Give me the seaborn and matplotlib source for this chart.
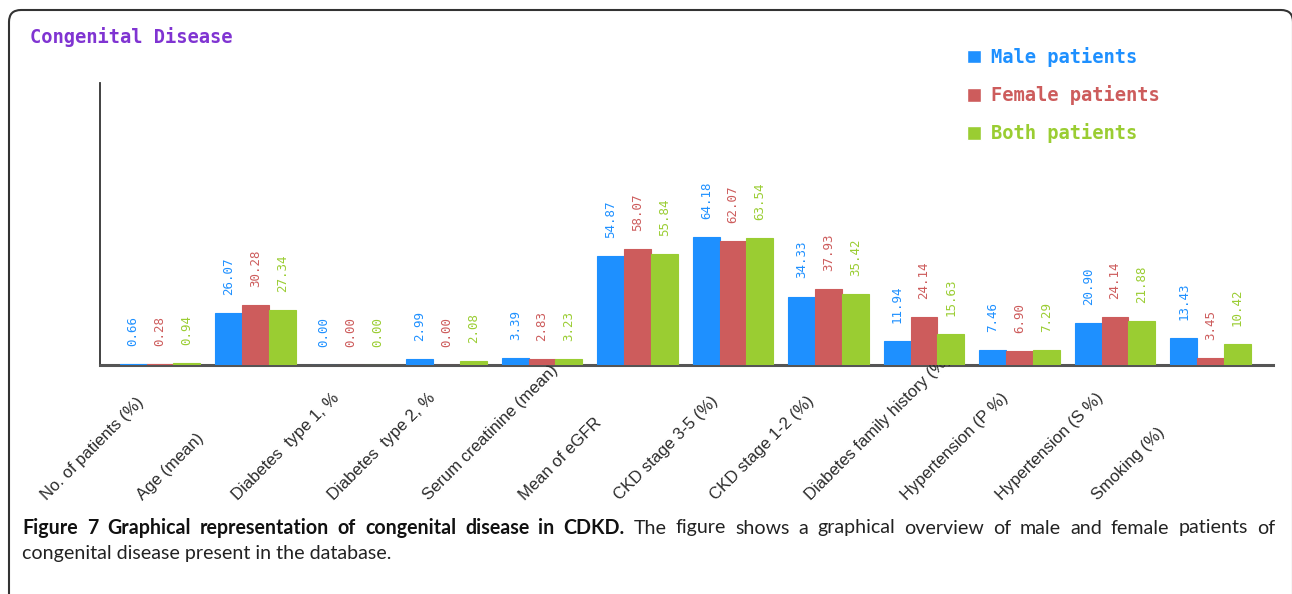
import matplotlib
matplotlib.use("Agg")
import matplotlib.pyplot as plt
import matplotlib.transforms as mtransforms
from matplotlib.patches import FancyBboxPatch
import seaborn as sns
import pandas as pd

categories = ["No. of patients (%)", "Age (mean)", "Diabetes  type 1, %", "Diabetes  type 2, %",
              "Serum creatinine (mean)", "Mean of eGFR", "CKD stage 3-5 (%)", "CKD stage 1-2 (%)",
              "Diabetes family history (%)", "Hypertension (P %)", "Hypertension (S %)", "Smoking (%)"]
male = [0.66, 26.07, 0.00, 2.99, 3.39, 54.87, 64.18, 34.33, 11.94, 7.46, 20.90, 13.43]
female = [0.28, 30.28, 0.00, 0.00, 2.83, 58.07, 62.07, 37.93, 24.14, 6.90, 24.14, 3.45]
both = [0.94, 27.34, 0.00, 2.08, 3.23, 55.84, 63.54, 35.42, 15.63, 7.29, 21.88, 10.42]
series_names = ["Male patients", "Female patients", "Both patients"]
colors = ["#1E90FF", "#CD5C5C", "#9ACD32"]
title = "Congenital Disease"
cap_bold = "Figure 7 Graphical representation of congenital disease in CDKD."
cap_rest1 = "The figure shows a graphical overview of male and female patients of"
cap_line2 = "congenital disease present in the database."

rows = []
for name, vals in zip(series_names, [male, female, both]):
    for c, v in zip(categories, vals):
        rows.append({"category": c, "value": v, "series": name})
df = pd.DataFrame(rows)

sns.set_theme(style="white")
W, H = 1292, 594
fig = plt.figure(figsize=(W / 100, H / 100), dpi=100)
fig.patch.set_facecolor("white")

ax = fig.add_axes([100 / W, (H - 365) / H, (1273 - 100) / W, (365 - 83) / H])
sns.barplot(data=df, x="category", y="value", hue="series", order=categories,
            hue_order=series_names, palette=colors, saturation=1, width=0.84,
            gap=0, ax=ax, legend=True, errorbar=None)

for cont, col, vals in zip(ax.containers, colors, [male, female, both]):
    for p in cont:
        p.set_edgecolor(col)
        p.set_linewidth(0.8)
        p.set_zorder(2)
    ax.bar_label(cont, labels=[f"{v:.2f}" for v in vals], padding=13, rotation=90,
                 color=col, fontsize=9, fontfamily="DejaVu Sans Mono")

ax.set_xlim(-0.628, 11.654)
ax.set_ylim(0, 141.4)
ax.set_yticks([])
ax.set_xlabel("")
ax.set_ylabel("")
for s in ["top", "right"]:
    ax.spines[s].set_visible(False)
ax.spines["left"].set_color("#333333")
ax.spines["left"].set_linewidth(1.3)
ax.spines["bottom"].set_color("#555555")
ax.spines["bottom"].set_linewidth(2.2)
ax.spines["bottom"].set_zorder(0.5)
ax.spines["left"].set_zorder(0.5)

ax.tick_params(axis="x", length=0, pad=0)
shift = mtransforms.ScaledTranslation(-1.13, -1.36, fig.dpi_scale_trans)
for lbl in ax.get_xticklabels():
    lbl.set_rotation(45)
    lbl.set_ha("left")
    lbl.set_va("baseline")
    lbl.set_rotation_mode("anchor")
    lbl.set_fontfamily("Liberation Sans")
    lbl.set_fontsize(12)
    lbl.set_color("#2a2a2a")
    lbl.set_transform(lbl.get_transform() + shift)

handles, labels = ax.get_legend_handles_labels()
ax.get_legend().remove()
leg = fig.legend(handles, labels, loc="upper left", bbox_to_anchor=(967 / W, 1 - 47 / H),
                 frameon=False, prop=dict(family="DejaVu Sans Mono", size=13.5, weight="bold"),
                 handlelength=0.75, handleheight=0.75, handletextpad=0.55,
                 labelspacing=0.97, borderpad=0, borderaxespad=0)
for t, col in zip(leg.get_texts(), colors):
    t.set_color(col)

fig.text(30 / W, 1 - 37 / H, title, family="DejaVu Sans Mono", size=13.5,
         color="#8034D2", va="center", ha="left", weight="bold")

# border (right side falls just outside the picture)
border = FancyBboxPatch((9, -40), 1284, (H - 10) + 40,
                        boxstyle="round,pad=0,rounding_size=12",
                        transform=mtransforms.IdentityTransform(),
                        facecolor="none", edgecolor="#333333", linewidth=1.5)
fig.patches.append(border)

# caption (first line justified)
fig.canvas.draw()
r = fig.canvas.get_renderer()
probe = fig.text(0, 0, cap_line2, family="Lato", size=13)
wpx = probe.get_window_extent(r).width
probe.remove()
fs = 13 * 368 / wpx

words = [(w, "bold") for w in cap_bold.split()] + [(w, "normal") for w in cap_rest1.split()]
objs = []
total = 0.0
for w, wt in words:
    t = fig.text(0, 1 - 528 / H, w, family="Lato", weight=wt, size=fs, va="center",
                 ha="left", color="#111111" if wt == "bold" else "#222222")
    total += t.get_window_extent(r).width
    objs.append(t)
gap = (1275 - 22 - total) / (len(objs) - 1)
xpos = 22.0
for t in objs:
    t.set_x(xpos / W)
    xpos += t.get_window_extent(r).width + gap
fig.text(22 / W, 1 - 553 / H, cap_line2, family="Lato", size=fs,
         va="center", ha="left", color="#222222")

fig.savefig("out.png", dpi=100)
